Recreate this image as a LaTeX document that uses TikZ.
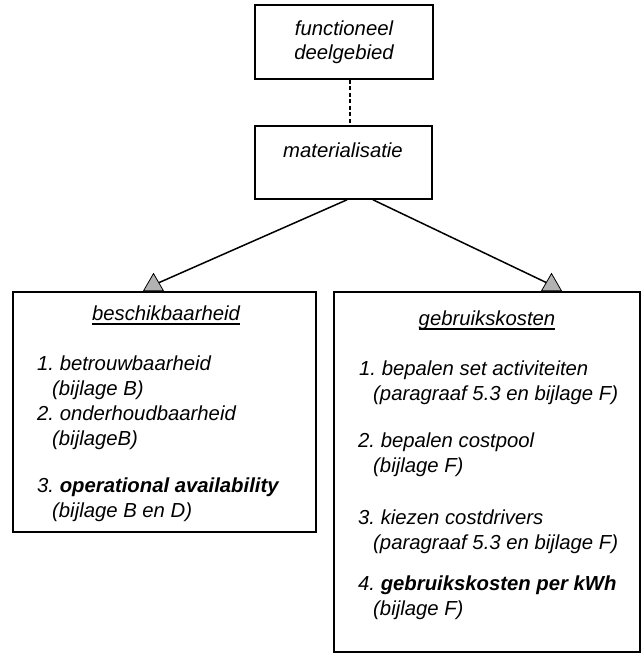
\documentclass[tikz,border=0pt]{standalone}
\usepackage{fontspec}
\setmainfont{Liberation Sans}
\usetikzlibrary{shapes.geometric}
\frenchspacing
\begin{document}
\begin{tikzpicture}[x=1pt,y=-1pt,
  box/.style={draw, line width=1.6pt, inner sep=0pt},
  lbl/.style={inner sep=0pt, font=\fontsize{20.3}{24}\selectfont\itshape},
  item/.style={lbl, anchor=base west},
  title/.style={lbl, anchor=base},
  uline/.style={line width=1.1pt},
  link/.style={line width=1.5pt},
  dashlink/.style={line width=2.2pt, dash pattern=on 4pt off 2.5pt},
  tri/.style={regular polygon, regular polygon sides=3, minimum size=23pt,
              inner sep=0pt, draw, line width=0.8pt, fill=gray!60, anchor=south}]
\useasboundingbox (0,0) rectangle (644,658);

% top boxes
\node[box, lbl, align=center, minimum width=178pt, minimum height=74pt] (fd) at (344,42) {functioneel\\deelgebied};
\node[box, minimum width=177pt, minimum height=73pt] (mat) at (343.5,162.5) {};
\node[lbl] (matlbl) at (343,150) {materialisatie};
\draw[dashlink] ([xshift=6pt]fd.south) -- ([xshift=6.5pt]mat.north);

% lower boxes
\node[box, minimum width=303pt, minimum height=240pt] (bes) at (164.5,412) {};
\node[box, minimum width=306pt, minimum height=360pt] (geb) at (487,472) {};

% triangle markers and links
\node[tri] (triL) at (153.5,0 |- bes.north) {};
\node[tri] (triR) at (551.5,0 |- geb.north) {};
\draw[link] ([xshift=3.5pt]mat.south) -- (triL);
\draw[link] ([xshift=29.5pt]mat.south) -- (triR);

% beschikbaarheid
\node[title] (bt) at (166,320) {beschikbaarheid};
\draw[uline] ([yshift=-4pt]bt.base west) -- ([yshift=-4pt]bt.base east);
\node[item] (b1) at (37,370) {1. betrouwbaarheid};
\node[item] (b1s) at (52,395) {(bijlage B)};
\node[item] (b2) at (37,420) {2. onderhoudbaarheid};
\node[item] (b2s) at (52,445) {(bijlageB)};
\node[item] (b3) at (37,492) {3. \textbf{operational availability}};
\node[item] (b3s) at (52,517) {(bijlage B en D)};

% gebruikskosten
\node[title] (gt) at (487,325) {gebruikskosten};
\draw[uline] ([yshift=-4pt]gt.base west) -- ([yshift=-4pt]gt.base east);
\node[item] (g1) at (359,375) {1. bepalen set activiteiten};
\node[item] (g1s) at (373,400) {(paragraaf 5.3 en bijlage F)};
\node[item] (g2) at (358,447) {2. bepalen costpool};
\node[item] (g2s) at (373,472) {(bijlage F)};
\node[item] (g3) at (358,524) {3. kiezen costdrivers};
\node[item] (g3s) at (373,549) {(paragraaf 5.3 en bijlage F)};
\node[item] (g4) at (358,590) {4. \textbf{gebruikskosten per kWh}};
\node[item] (g4s) at (373,615) {(bijlage F)};
\end{tikzpicture}
\end{document}
